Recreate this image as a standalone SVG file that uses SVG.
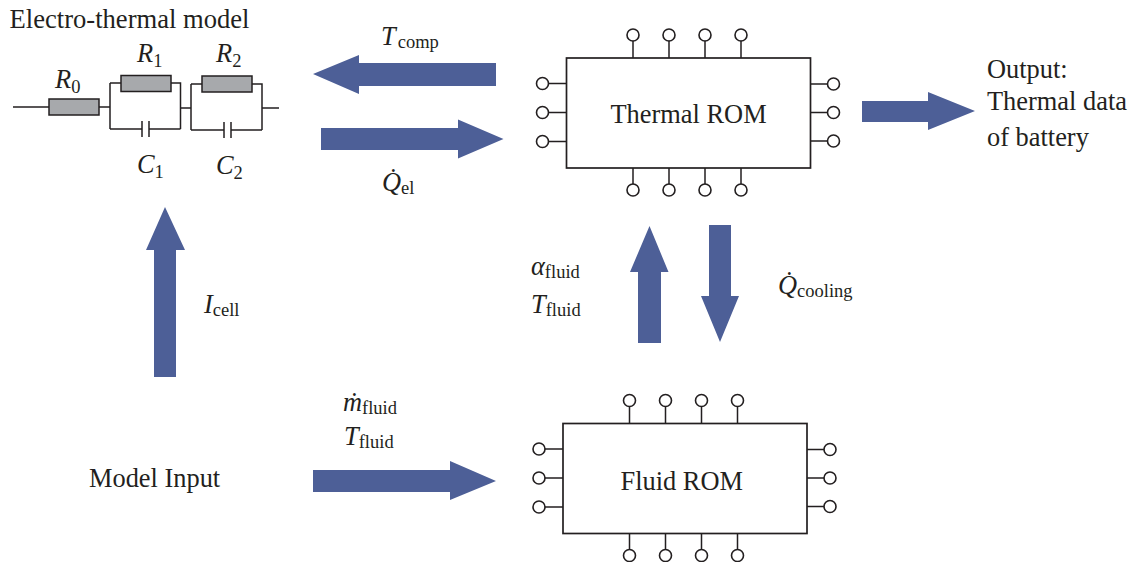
<svg xmlns="http://www.w3.org/2000/svg" width="1134" height="562" viewBox="0 0 1134 562">
<style>
text{font-family:"Liberation Serif","Times New Roman",serif;font-size:26.400px;fill:#231f20}
.i{font-style:italic}
.s{font-size:18.500px;font-style:normal}
.w{fill:none;stroke:#231f20;stroke-width:1.5}
.r{fill:#a7a9ac;stroke:#231f20;stroke-width:1.5}
.b{fill:#fff;stroke:#231f20;stroke-width:1.7}
.c{fill:#fff;stroke:#231f20;stroke-width:1.6}
.a{fill:#4d5f97}
</style>
<defs>
<g id="pins">
<path class="w" d="M66.500 -23V0M102.500 -23V0M138.500 -23V0M174.500 -23V0M66.500 110V132M102.500 110V132M138.500 110V132M174.500 110V132M-24 25.500H0M-24 54.500H0M-24 83.500H0M244 26H267M244 54.500H267M244 83H267"/>
<circle class="c" cx="66.500" cy="-23" r="6"/><circle class="c" cx="102.500" cy="-23" r="6"/><circle class="c" cx="138.500" cy="-23" r="6"/><circle class="c" cx="174.500" cy="-23" r="6"/>
<circle class="c" cx="66.500" cy="132" r="6"/><circle class="c" cx="102.500" cy="132" r="6"/><circle class="c" cx="138.500" cy="132" r="6"/><circle class="c" cx="174.500" cy="132" r="6"/>
<circle class="c" cx="-24" cy="25.500" r="6"/><circle class="c" cx="-24" cy="54.500" r="6"/><circle class="c" cx="-24" cy="83.500" r="6"/>
<circle class="c" cx="267" cy="26" r="6"/><circle class="c" cx="267" cy="54.500" r="6"/><circle class="c" cx="267" cy="83" r="6"/>
</g>
</defs>
<g id="electro-thermal">
<text x="9.500" y="28" style="font-size:26.600px">Electro-thermal model</text>
<path class="w" d="M13 107H49M99 107H110M110 83V129M110 83H121M171 83H180.500V129M110 129H142M149 129H180.500M142 121V137M149 121V137M180.500 108H191M191 84V130M191 84H202M252 84H262V130M191 130H224M231 130H262M224 122V138M231 122V138M262 108H279"/>
<rect class="r" x="49" y="99" width="50" height="16"/>
<rect class="r" x="121" y="75.500" width="50" height="16"/>
<rect class="r" x="202" y="76" width="50" height="16"/>
<text class="i" x="55" y="88">R<tspan class="s" dy="5">0</tspan></text>
<text class="i" x="137" y="62">R<tspan class="s" dy="5">1</tspan></text>
<text class="i" x="216" y="62">R<tspan class="s" dy="5">2</tspan></text>
<text class="i" x="137" y="173">C<tspan class="s" dy="5">1</tspan></text>
<text class="i" x="216" y="174">C<tspan class="s" dy="5">2</tspan></text>
</g>
<g id="thermal-rom">
<use href="#pins" x="566.500" y="58"/>
<rect class="b" x="566.500" y="58" width="244" height="110"/>
<text x="610.500" y="123">Thermal ROM</text>
</g>
<g id="fluid-rom">
<use href="#pins" x="563" y="423.500"/>
<rect class="b" x="563" y="423.500" width="244" height="110"/>
<text x="620.500" y="490">Fluid ROM</text>
</g>
<g id="model-input"><text x="89" y="487">Model Input</text></g>
<g id="output"><text x="987" y="78">Output:</text><text x="987" y="110">Thermal data</text><text x="987" y="146">of battery</text></g>
<g id="connectors">
<polygon class="a" points="313,74 359,55 359,63 496,63 496,86 359,86 359,94"/>
<polygon class="a" points="503.500,139 458,119.500 458,128 321,128 321,150 458,150 458,158.500"/>
<polygon class="a" points="165,207 185,250 176,250 176,377 154,377 154,250 146,250"/>
<polygon class="a" points="649.500,226 668.500,272 661,272 661,343 638,343 638,272 630,272"/>
<polygon class="a" points="720,342 739,296 731,296 731,225 709,225 709,296 701,296"/>
<polygon class="a" points="975,111 928,92 928,101 862,101 862,122 928,122 928,130"/>
<polygon class="a" points="496,481 450,461 450,470 313,470 313,492 450,492 450,500"/>
</g>
<g id="labels">
<text class="i" x="381" y="45">T<tspan class="s" dx="2" dy="3">comp</tspan></text>
<text class="i" x="382" y="191">Q̇<tspan class="s" dy="3">el</tspan></text>
<text class="i" x="204" y="313">I<tspan class="s" dy="3">cell</tspan></text>
<text class="i" x="531" y="275">α<tspan class="s" dy="3">fluid</tspan></text>
<text class="i" x="531" y="313">T<tspan class="s" dy="3">fluid</tspan></text>
<text class="i" x="778" y="294">Q̇<tspan class="s" dy="3">cooling</tspan></text>
<text class="i" x="343" y="411">ṁ<tspan class="s" dy="3">fluid</tspan></text>
<text class="i" x="344" y="445">T<tspan class="s" dy="3">fluid</tspan></text>
</g>
</svg>
